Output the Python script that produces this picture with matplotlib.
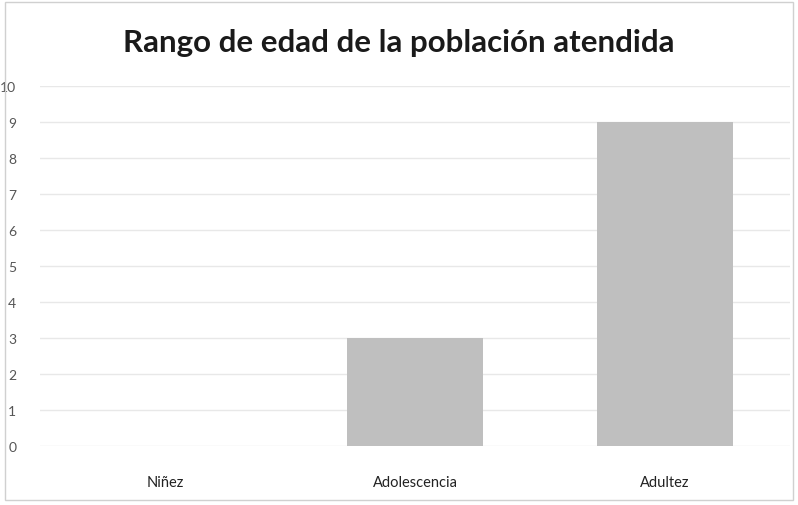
import matplotlib
matplotlib.use("Agg")
import matplotlib.pyplot as plt
from matplotlib.patches import Rectangle

categories = ["Niñez", "Adolescencia", "Adultez"]
values = [0, 3, 9]
yticks = list(range(0, 11))

plt.rcParams['font.family'] = ['Lato', 'DejaVu Sans']

fig = plt.figure(figsize=(7.98, 5.06), dpi=100)
ax = fig.add_axes([0.050, 0.1166, 0.940, 0.7115])

x = list(range(len(categories)))
ax.bar(x, values, width=0.545, color="#bfbfbf", zorder=2)
ax.set_xlim(-0.5, 2.5)
ax.set_ylim(0, 10)
ax.set_yticks(yticks)
ax.set_yticklabels([str(t) for t in yticks], fontsize=10, color="#555555")
ax.set_xticks(x)
ax.set_xticklabels(categories, fontsize=10.5, color="#222222")
ax.tick_params(axis='both', length=0)
ax.tick_params(axis='y', pad=17)
ax.tick_params(axis='x', pad=21)
ax.grid(axis='y', color="#e8e8e8", linewidth=1, zorder=0)
for s in ax.spines.values():
    s.set_visible(False)

fig.text(0.5, 0.915, "Rango de edad de la población atendida", ha='center', va='center',
         fontsize=22.5, fontweight='bold', color="#1a1a1a")

fig.patches.append(Rectangle((0.006, 0.010), 0.988, 0.985, transform=fig.transFigure,
                             fill=False, edgecolor="#d0d0d0", linewidth=1))

fig.savefig("out.png", dpi=100)
